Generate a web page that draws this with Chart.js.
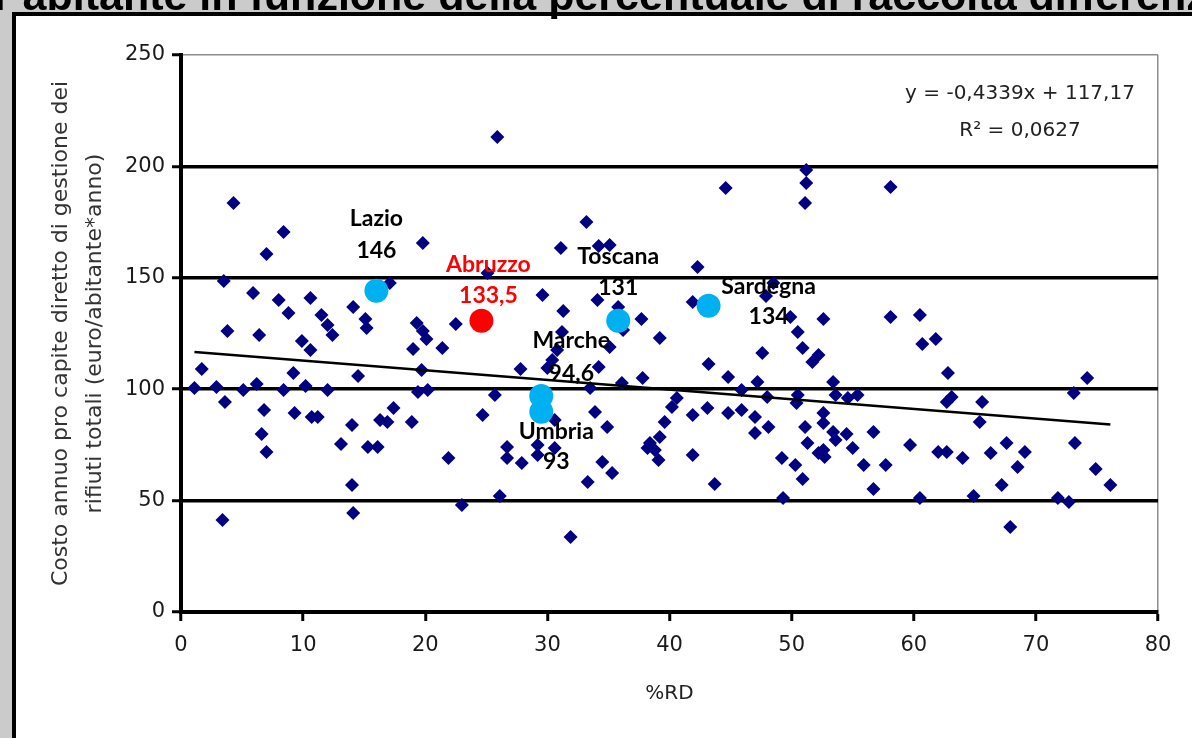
<!DOCTYPE html>
<html>
<head>
<meta charset="utf-8">
<script src="https://cdn.jsdelivr.net/npm/chart.js@4.4.1/dist/chart.umd.min.js"></script>
<style>
html,body{margin:0;padding:0;}
body{width:1192px;height:738px;overflow:hidden;background:#cbcbcb;position:relative;}
#frame{position:absolute;left:12px;top:12px;width:1300px;height:900px;background:#fff;border-left:4px solid #000;border-top:4px solid #000;}
#title{position:absolute;top:-26px;left:0;white-space:nowrap;font:bold 43px "Liberation Sans",Arial,sans-serif;line-height:43px;color:#000;z-index:3;}
#c{position:absolute;left:0;top:0;z-index:2;}
</style>
</head>
<body>
<div id="frame"></div>
<div id="title"><span id="pre">Costo annuo per</span> abitante in funzione della percentuale di raccolta differenziata</div>
<canvas id="c" width="1192" height="738"></canvas>
<script>
// ---- data ----
const rdX = [
25.9,4.3,8.4,7.0,19.8,25.1,3.5,17.1,5.9,8.0,10.6,8.8,14.1,11.5,12.0,12.4,15.1,15.2,3.8,6.4,
19.3,19.8,20.1,22.5,9.9,10.6,19.0,21.4,1.7,9.2,14.5,19.7,44.6,33.2,31.1,34.2,35.1,42.3,29.6,31.3,
34.1,35.8,37.7,39.2,41.9,31.2,34.2,35.1,43.2,44.8,47.6,49.9,50.5,48.5,47.9,51.2,51.2,51.1,58.1,52.6,
50.9,52.2,51.7,58.1,60.5,60.7,61.8,62.8,30.8,30.4,30.0,27.8,36.2,74.2,73.1,
1.1,2.9,5.1,6.2,8.4,10.2,12.0,3.6,6.8,9.3,10.7,11.2,14.0,6.6,7.0,13.1,15.3,16.1,14.0,3.4,
14.1,16.3,19.4,20.2,25.7,17.4,16.9,18.9,24.7,30.6,21.9,26.7,26.7,27.9,29.2,29.2,30.6,23.0,26.1,31.9,
37.8,36.1,47.2,33.5,45.9,40.6,40.2,43.1,41.9,44.8,45.9,47.0,33.9,34.9,39.6,47.0,48.1,39.2,38.4,38.8,
39.1,38.2,41.9,34.5,35.3,33.3,43.7,53.4,53.6,55.4,54.6,50.5,50.4,48.0,62.7,63.1,52.6,52.6,53.4,53.6,
54.5,51.1,51.3,55.0,52.6,52.7,52.2,56.7,59.7,62.0,62.7,64.0,49.2,50.3,55.9,57.7,50.9,56.7,49.3,60.5,
65.6,65.4,73.2,67.6,66.3,69.1,68.5,74.9,67.2,76.1,64.9,71.8,72.7,67.9
];
const costY = [
213.2,183.6,170.6,160.7,165.6,152.2,148.6,147.7,143.2,140.0,140.9,134.2,136.9,133.3,128.8,124.3,131.5,127.5,126.1,124.3,
129.7,126.1,122.5,129.3,121.6,117.6,118.0,118.5,109.1,107.3,105.9,108.6,190.3,175.0,163.4,164.3,164.7,154.8,142.3,135.1,
140.0,136.9,131.5,123.0,139.1,125.7,110.0,118.9,111.3,105.5,116.2,132.4,125.7,147.7,141.8,198.4,192.5,183.6,190.8,131.5,
118.5,115.3,112.2,132.4,133.3,120.3,122.5,107.3,117.6,113.1,109.5,109.1,126.6,105.0,98.3,
100.5,101.0,99.6,102.3,99.6,101.4,99.6,94.3,90.7,89.3,87.5,87.5,83.9,79.9,71.8,75.4,74.1,74.1,57.0,41.3,
44.4,86.2,98.7,99.6,97.4,91.6,85.3,85.3,88.4,86.2,69.1,74.1,69.1,66.9,75.0,70.5,73.6,48.0,52.1,33.7,
105.0,102.8,103.2,100.5,99.6,96.1,92.0,91.6,88.4,89.3,90.7,87.5,89.8,83.0,85.3,80.3,83.0,78.5,75.9,72.7,
68.2,73.6,70.5,67.3,62.4,58.3,57.5,103.2,97.4,97.4,96.1,97.4,93.8,96.5,94.3,96.5,89.3,84.8,80.8,77.2,
79.9,83.0,75.9,73.6,72.7,69.6,71.4,80.8,75.0,71.8,71.8,69.1,69.1,66.0,66.0,66.0,59.7,55.2,51.2,51.2,
94.3,85.3,75.9,75.9,71.4,71.8,65.1,64.2,57.0,57.0,52.1,51.2,49.4,38.1
];
const hlNames = ['Lazio','Abruzzo','Toscana','Sardegna','Marche','Umbria'];
const hlValueLabels = ['146','133,5','131','134','94,6','93'];
const hlX = [16.0, 24.6, 35.8, 43.2, 29.5, 29.5];
const hlY = [144.2, 130.7, 130.7, 137.5, 96.9, 89.9];
const trendX = [1.1, 76.1];
const trendY = [116.7, 84.2];
const xTicks = [0,10,20,30,40,50,60,70,80];
const yTicks = [0,50,100,150,200,250];
const equationLines = ['y = -0,4339x + 117,17', 'R\u00B2 = 0,0627'];
const yTitle = ['Costo annuo pro capite diretto di gestione dei', 'rifiuti totali (euro/abitante*anno)'];
const xTitle = '%RD';

// ---- styles ----
const hlColors = ['#00B0F0','#FF0000','#00B0F0','#00B0F0','#00B0F0','#00B0F0'];
const hlTextColors = ['#000','#FF0000','#000','#000','#000','#000'];
// [dxName, dyName, dxValue, dyValue] in pixels, relative to the marker
const labelOffsets = [[0,-72,0,-40],[7,-56,7,-25],[0,-64,0,-33],[60,-19,60,11],[30,-56,30,-23],[15,20,15,50]];

// title placement
const pre = document.getElementById('pre');
document.getElementById('title').style.left = (11 - pre.offsetWidth) + 'px';

const labelPlugin = {
  id: 'labels',
  afterDatasetsDraw(chart) {
    const {ctx, chartArea} = chart;
    const xs = chart.scales.x, ys = chart.scales.y;
    ctx.save();
    ctx.textAlign = 'center';
    ctx.textBaseline = 'middle';
    ctx.font = 'bold 23px Lato';
    hlNames.forEach((n, i) => {
      const px = xs.getPixelForValue(hlX[i]);
      const py = ys.getPixelForValue(hlY[i]);
      const o = labelOffsets[i];
      ctx.fillStyle = hlTextColors[i];
      ctx.fillText(n, px + o[0], py + o[1]);
      ctx.fillText(hlValueLabels[i], px + o[2], py + o[3]);
    });
    ctx.font = '20px "DejaVu Sans"';
    ctx.fillStyle = '#222';
    equationLines.forEach((t, i) => ctx.fillText(t, chartArea.right - 138, chartArea.top + 39 + 37 * i));
    ctx.restore();
  }
};

new Chart(document.getElementById('c'), {
  type: 'scatter',
  data: {
    datasets: [
      {
        data: hlX.map((v, i) => ({x: v, y: hlY[i]})),
        pointStyle: 'circle', pointRadius: 12,
        backgroundColor: hlColors, borderColor: hlColors, borderWidth: 0
      },
      {
        data: trendX.map((v, i) => ({x: v, y: trendY[i]})),
        showLine: true, borderColor: '#000', borderWidth: 2.5, pointRadius: 0
      },
      {
        data: rdX.map((v, i) => ({x: v, y: costY[i]})),
        pointStyle: 'rectRot', pointRadius: 7,
        backgroundColor: '#000080', borderColor: '#000080', borderWidth: 0
      }
    ]
  },
  options: {
    responsive: false, animation: false, devicePixelRatio: 1,
    layout: {padding: {left: 14, top: 55, right: 34, bottom: 0}},
    plugins: {legend: {display: false}, tooltip: {enabled: false}},
    scales: {
      x: {
        type: 'linear', min: 0, max: 80,
        afterFit(s) { s.height = 126; },
        afterBuildTicks(s) { s.ticks = xTicks.map(v => ({value: v})); },
        ticks: {font: {family: 'DejaVu Sans', size: 21}, color: '#1a1a1a', padding: 12, maxRotation: 0, autoSkip: false},
        grid: {
          drawOnChartArea: true,
          color: c => (c.tick && c.tick.value === 80) ? '#8c8c8c' : 'rgba(0,0,0,0)',
          lineWidth: 1.5, tickColor: '#000', tickWidth: 3, tickLength: 9
        },
        border: {color: '#000', width: 4},
        title: {display: true, text: xTitle, font: {family: 'DejaVu Sans', size: 20}, color: '#222', padding: {top: 0, bottom: 32}}
      },
      y: {
        type: 'linear', min: 0, max: 250,
        afterFit(s) { s.width = 167; },
        afterBuildTicks(s) { s.ticks = yTicks.map(v => ({value: v})); },
        ticks: {font: {family: 'DejaVu Sans', size: 21}, color: '#1a1a1a', padding: 7},
        grid: {
          color: c => !c.tick ? '#000' : (c.tick.value === 250 ? '#8c8c8c' : (c.tick.value === 0 ? 'rgba(0,0,0,0)' : '#000')),
          lineWidth: c => (c.tick && c.tick.value === 250) ? 1.5 : 3.5,
          tickColor: '#000', tickWidth: 3, tickLength: 9
        },
        border: {color: '#000', width: 4},
        title: {display: true, text: yTitle, font: {family: 'DejaVu Sans', size: 22, lineHeight: 1.55}, color: '#333', padding: {top: 30, bottom: 0}}
      }
    }
  },
  plugins: [labelPlugin]
});
</script>
</body>
</html>
